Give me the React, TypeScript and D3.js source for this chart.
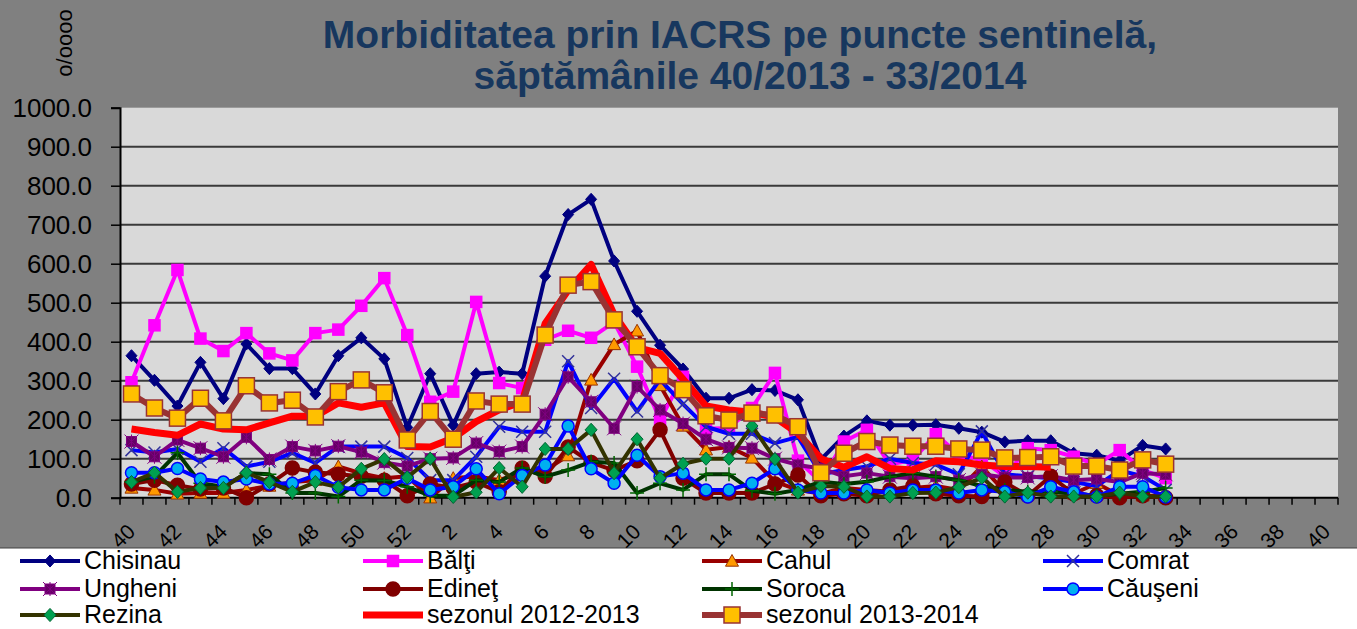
import React, { useRef, useEffect } from "react";
import * as d3 from "d3";

// weeks 40/2013 .. 40/2014
const weeks = [
  "40", "41", "42", "43", "44", "45", "46", "47", "48", "49", "50", "51", "52",
  "1", "2", "3", "4", "5", "6", "7", "8", "9", "10", "11", "12", "13", "14", "15",
  "16", "17", "18", "19", "20", "21", "22", "23", "24", "25", "26", "27", "28",
  "29", "30", "31", "32", "33", "34", "35", "36", "37", "38", "39", "40",
];

const yTicks = [0, 100, 200, 300, 400, 500, 600, 700, 800, 900, 1000];

const chisinau = [364, 301, 235, 347, 254, 394, 331, 331, 266, 364, 410, 356, 180, 318, 186, 318, 322, 318, 568, 726, 765, 607, 478, 391, 330, 255, 255, 277, 275, 251, 98, 158, 197, 186, 186, 187, 178, 168, 143, 146, 146, 114, 109, 95, 134, 125];
const balti = [296, 442, 584, 408, 376, 422, 370, 352, 422, 431, 492, 563, 417, 246, 272, 502, 294, 281, 405, 428, 410, 450, 336, 200, 310, 177, 179, 230, 320, 95, 40, 144, 174, 85, 97, 163, 110, 97, 55, 127, 122, 105, 85, 122, 71, 50];
const cahul = [25, 20, 10, 12, 12, 20, 30, 40, 45, 80, 62, 50, 55, 0, 50, 55, 45, 65, 70, 108, 302, 393, 428, 288, 184, 123, 130, 102, 41, 20, 10, 25, 20, 15, 25, 30, 20, 80, 15, 10, 20, 10, 37, 5, 5, 5];
const comrat = [122, 116, 125, 92, 127, 80, 92, 115, 89, 131, 131, 131, 102, 45, 45, 105, 182, 169, 169, 350, 230, 305, 221, 303, 240, 182, 164, 164, 140, 156, 60, 71, 80, 100, 89, 85, 60, 170, 60, 55, 50, 40, 30, 70, 55, 20];
const ungheni = [144, 105, 148, 127, 105, 155, 98, 131, 120, 132, 117, 90, 81, 100, 102, 140, 118, 131, 214, 310, 246, 178, 285, 225, 190, 150, 129, 127, 100, 84, 75, 55, 63, 54, 50, 54, 45, 60, 52, 52, 55, 45, 48, 40, 63, 60];
const edinet = [35, 45, 32, 22, 25, 0, 35, 76, 65, 60, 55, 45, 5, 35, 25, 40, 15, 76, 55, 130, 90, 70, 95, 174, 50, 12, 12, 12, 35, 58, 5, 10, 5, 20, 30, 10, 5, 3, 40, 5, 55, 10, 5, 0, 5, 0];
const soroca = [41, 54, 115, 37, 28, 63, 60, 12, 12, 3, 45, 44, 28, 5, 5, 45, 40, 76, 54, 71, 92, 89, 12, 37, 20, 60, 60, 18, 10, 20, 41, 35, 41, 54, 63, 54, 45, 30, 20, 15, 15, 10, 5, 10, 15, 25];
const causeni = [64, 64, 75, 48, 40, 48, 35, 37, 57, 27, 20, 20, 50, 20, 28, 74, 10, 57, 84, 184, 74, 37, 109, 54, 63, 20, 20, 37, 74, 20, 12, 12, 20, 12, 20, 20, 12, 20, 15, 2, 28, 15, 2, 28, 28, 2];
const rezina = [40, 64, 15, 25, 25, 64, 40, 15, 40, 27, 74, 99, 52, 100, 2, 14, 76, 28, 125, 125, 174, 63, 150, 50, 87, 100, 100, 184, 99, 13, 30, 28, 3, 3, 12, 13, 27, 51, 3, 13, 3, 3, 3, 13, 3, 3];
const sezon2012 = [176, 167, 160, 189, 176, 174, 192, 209, 209, 243, 232, 243, 131, 130, 153, 195, 225, 246, 447, 532, 598, 470, 385, 370, 304, 235, 225, 219, 206, 165, 100, 78, 105, 75, 71, 95, 92, 84, 80, 80, 78];
const sezon2013 = [266, 230, 204, 255, 197, 287, 243, 250, 207, 272, 302, 269, 148, 221, 150, 248, 240, 240, 417, 545, 554, 456, 387, 313, 277, 210, 199, 217, 212, 182, 64, 114, 144, 135, 132, 132, 125, 122, 102, 103, 105, 81, 81, 71, 97, 86];

const series = [
  { name: "Chisinau", data: chisinau, color: "#000080", width: 4, marker: "diamond", fill: "#000080", stroke: "#000080", size: 11 },
  { name: "Bălţi", data: balti, color: "#FF00FF", width: 4, marker: "square", fill: "#FF00FF", stroke: "#FF00FF", size: 11 },
  { name: "Cahul", data: cahul, color: "#990000", width: 4, marker: "triangle", fill: "#FF9900", stroke: "#993300", size: 13 },
  { name: "Comrat", data: comrat, color: "#0000FF", width: 4, marker: "x", fill: "none", stroke: "#333399", size: 12 },
  { name: "Ungheni", data: ungheni, color: "#800080", width: 4, marker: "squareStar", fill: "#660066", stroke: "#800080", size: 10 },
  { name: "Edineţ", data: edinet, color: "#800000", width: 4, marker: "circle", fill: "#800000", stroke: "#800000", size: 14 },
  { name: "Soroca", data: soroca, color: "#003300", width: 4, marker: "plus", fill: "none", stroke: "#006600", size: 14 },
  { name: "Căuşeni", data: causeni, color: "#0000FF", width: 4, marker: "circle", fill: "#00B0F0", stroke: "#0000FF", size: 12 },
  { name: "Rezina", data: rezina, color: "#333300", width: 4, marker: "diamond", fill: "#00A050", stroke: "#006633", size: 12 },
  { name: "sezonul 2012-2013", data: sezon2012, color: "#FF0000", width: 7, marker: "none", fill: "none", stroke: "none", size: 0 },
  { name: "sezonul 2013-2014", data: sezon2013, color: "#993333", width: 6, marker: "square", fill: "#FFC000", stroke: "#993333", size: 16 },
];

const FONT = "'Liberation Sans', Arial, sans-serif";

function drawMarker(g, s, cx, cy) {
  const r = s.size / 2;
  if (s.marker === "diamond") {
    g.append("path")
      .attr("d", `M${cx},${cy - r * 1.1}L${cx + r},${cy}L${cx},${cy + r * 1.1}L${cx - r},${cy}Z`)
      .attr("fill", s.fill).attr("stroke", s.stroke).attr("stroke-width", 1);
  } else if (s.marker === "square") {
    g.append("rect")
      .attr("x", cx - r).attr("y", cy - r).attr("width", s.size).attr("height", s.size)
      .attr("fill", s.fill).attr("stroke", s.stroke).attr("stroke-width", 1.5);
  } else if (s.marker === "triangle") {
    g.append("path")
      .attr("d", `M${cx},${cy - r}L${cx + r},${cy + r * 0.8}L${cx - r},${cy + r * 0.8}Z`)
      .attr("fill", s.fill).attr("stroke", s.stroke).attr("stroke-width", 1);
  } else if (s.marker === "x") {
    g.append("path")
      .attr("d", `M${cx - r},${cy - r}L${cx + r},${cy + r}M${cx - r},${cy + r}L${cx + r},${cy - r}`)
      .attr("stroke", s.stroke).attr("stroke-width", 1.5).attr("fill", "none");
  } else if (s.marker === "squareStar") {
    g.append("rect")
      .attr("x", cx - r).attr("y", cy - r).attr("width", s.size).attr("height", s.size)
      .attr("fill", s.fill).attr("stroke", s.stroke).attr("stroke-width", 1);
    g.append("path")
      .attr("d", `M${cx - r - 2},${cy - r - 2}L${cx + r + 2},${cy + r + 2}M${cx - r - 2},${cy + r + 2}L${cx + r + 2},${cy - r - 2}M${cx},${cy - r - 2}L${cx},${cy + r + 2}`)
      .attr("stroke", "#800080").attr("stroke-width", 1);
  } else if (s.marker === "circle") {
    g.append("circle")
      .attr("cx", cx).attr("cy", cy).attr("r", r)
      .attr("fill", s.fill).attr("stroke", s.stroke).attr("stroke-width", 1.5);
  } else if (s.marker === "plus") {
    g.append("path")
      .attr("d", `M${cx - r},${cy}L${cx + r},${cy}M${cx},${cy - r}L${cx},${cy + r}`)
      .attr("stroke", s.stroke).attr("stroke-width", 1.5).attr("fill", "none");
  }
}

const MorbidityChart = () => {
  const svgRef = useRef(null);

  useEffect(() => {
    const width = 1357;
    const height = 629;
    const svg = d3.select(svgRef.current);
    svg.selectAll("*").remove();
    svg.attr("width", width).attr("height", height);

    // plot area
    const left = 120, right = 1338, top = 107.7, bottom = 497.7;

    const x = d3.scaleBand().domain(weeks.map((_, i) => i)).range([left, right]).padding(0);
    const y = d3.scaleLinear().domain([0, 1000]).range([bottom, top]);
    const cx = (i) => x(i) + x.bandwidth() / 2;

    // backgrounds
    svg.append("rect").attr("width", width).attr("height", height).attr("fill", "#808080");
    svg.append("rect").attr("y", 548).attr("width", width).attr("height", height - 548).attr("fill", "#FFFFFF");
    svg.append("line").attr("x1", 0).attr("x2", width).attr("y1", 548).attr("y2", 548)
      .attr("stroke", "#404040").attr("stroke-width", 1);
    svg.append("rect").attr("x", left).attr("y", top).attr("width", right - left).attr("height", bottom - top)
      .attr("fill", "#D9D9D9");

    // title
    svg.append("text").attr("x", 740).attr("y", 48).attr("text-anchor", "middle")
      .attr("font-family", FONT).attr("font-weight", "bold").attr("font-size", 39).attr("fill", "#17375E")
      .text("Morbiditatea prin IACRS pe puncte sentinelă,");
    svg.append("text").attr("x", 750).attr("y", 89).attr("text-anchor", "middle")
      .attr("font-family", FONT).attr("font-weight", "bold").attr("font-size", 39).attr("fill", "#17375E")
      .text("săptămânile 40/2013 - 33/2014");

    // y unit label
    svg.append("text").attr("transform", "translate(72,43) rotate(-90)").attr("text-anchor", "middle")
      .attr("font-family", FONT).attr("font-size", 22).attr("fill", "#000")
      .text("o/oooo");

    // gridlines
    svg.append("g").selectAll("line").data(yTicks.filter((t) => t > 0 && t < 1000)).enter().append("line")
      .attr("x1", left).attr("x2", right).attr("y1", (d) => y(d)).attr("y2", (d) => y(d))
      .attr("stroke", "#3A3A3A").attr("stroke-width", 2);

    // y axis
    const yAxis = svg.append("g").attr("transform", `translate(${left},0)`)
      .call(d3.axisLeft(y).tickValues(yTicks).tickSize(9).tickFormat((d) => d3.format(".1f")(d)));
    yAxis.select(".domain").attr("stroke", "#000").attr("stroke-width", 2);
    yAxis.selectAll(".tick line").attr("stroke", "#000").attr("stroke-width", 1.5);
    yAxis.selectAll(".tick text").attr("x", -28).attr("font-family", FONT).attr("font-size", 26).attr("fill", "#000");

    // x axis
    svg.append("line").attr("x1", left).attr("x2", right).attr("y1", bottom).attr("y2", bottom)
      .attr("stroke", "#000").attr("stroke-width", 2);
    svg.append("g").selectAll("line").data(d3.range(weeks.length + 1)).enter().append("line")
      .attr("x1", (i) => left + i * x.bandwidth()).attr("x2", (i) => left + i * x.bandwidth())
      .attr("y1", bottom).attr("y2", bottom + 7)
      .attr("stroke", "#000").attr("stroke-width", 1.5);
    svg.append("g").selectAll("text").data(weeks.map((w, i) => ({ w, i })).filter((d) => d.i % 2 === 0))
      .enter().append("text")
      .attr("transform", (d) => `translate(${cx(d.i) + 5},533) rotate(-45)`)
      .attr("text-anchor", "end")
      .attr("font-family", FONT).attr("font-size", 21).attr("fill", "#000")
      .text((d) => d.w);

    // series
    const line = d3.line().x((d, i) => cx(i)).y((d) => y(d));
    series.forEach((s) => {
      const g = svg.append("g");
      g.append("path").datum(s.data).attr("d", line)
        .attr("fill", "none").attr("stroke", s.color).attr("stroke-width", s.width)
        .attr("stroke-linejoin", "round");
      s.data.forEach((v, i) => drawMarker(g, s, cx(i), y(v)));
    });

    // legend
    const legendCols = [20, 363, 702, 1043];
    const legendRows = [561, 589, 615];
    series.forEach((s, k) => {
      const lx = legendCols[k % 4];
      const ly = legendRows[Math.floor(k / 4)];
      const g = svg.append("g");
      g.append("line").attr("x1", lx).attr("x2", lx + 60).attr("y1", ly).attr("y2", ly)
        .attr("stroke", s.color).attr("stroke-width", s.width);
      drawMarker(g, s, lx + 30, ly);
      g.append("text").attr("x", lx + 64).attr("y", ly + 8)
        .attr("font-family", FONT).attr("font-size", 25).attr("fill", "#000")
        .text(s.name);
    });
  }, []);

  return <svg ref={svgRef} style={{ position: "absolute", left: 0, top: 0 }}></svg>;
};

export default function App() {
  return <MorbidityChart />;
}
